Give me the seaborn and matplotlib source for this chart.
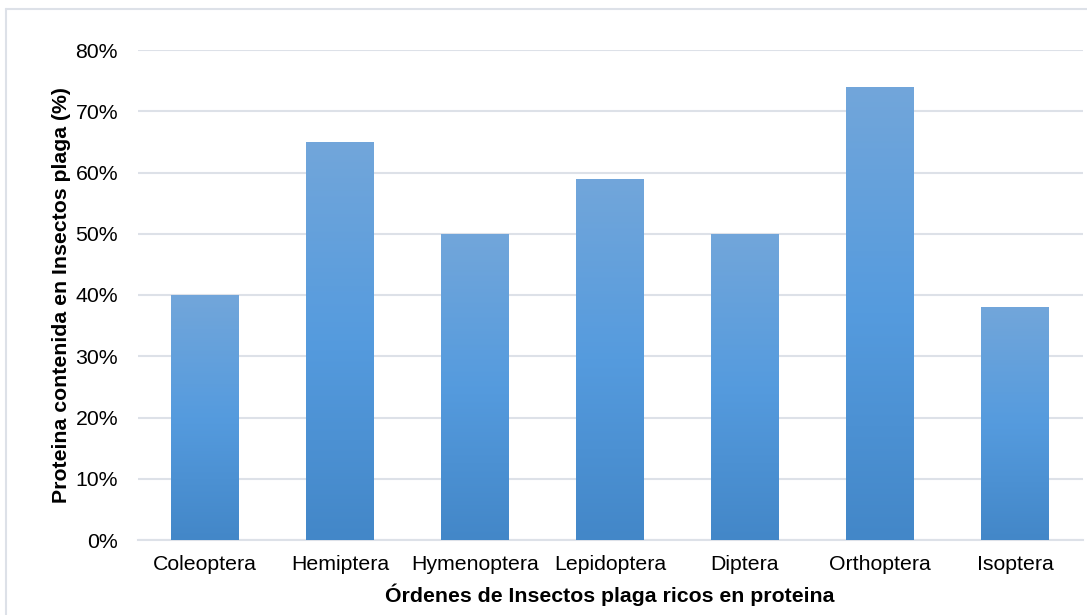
import numpy as np
import pandas as pd
import matplotlib
matplotlib.use("Agg")
import matplotlib.pyplot as plt
import seaborn as sns
from matplotlib.colors import LinearSegmentedColormap
from matplotlib.lines import Line2D

ordenes = ["Coleoptera", "Hemiptera", "Hymenoptera", "Lepidoptera", "Diptera", "Orthoptera", "Isoptera"]
proteina = [40, 65, 50, 59, 50, 74, 38]
y_ticks = [0, 10, 20, 30, 40, 50, 60, 70, 80]

sns.set_theme(style="white")
plt.rcParams['font.family'] = ['Liberation Sans', 'DejaVu Sans']

df = pd.DataFrame({"orden": ordenes, "proteina": proteina})

fig = plt.figure(figsize=(10.87, 6.15), dpi=100)
ax = fig.add_axes([137.5/1087, 1-540/615, 945/1087, 490/615])

sns.barplot(data=df, x="orden", y="proteina", color="#5B9BD5", width=0.5, ax=ax, zorder=2)

fs = 15.3
ax.set_ylim(0, 80)
ax.set_xlim(-0.5, len(ordenes) - 0.5)
ax.set_yticks(y_ticks)
ax.set_yticklabels([f"{v}%" for v in y_ticks])
grid_c = "#dde1e8"
ax.yaxis.grid(True, color=grid_c, linewidth=1.5, zorder=0)
ax.set_axisbelow(True)
for s in ["top", "right", "left"]:
    ax.spines[s].set_visible(False)
ax.spines["bottom"].set_color(grid_c)
ax.spines["bottom"].set_linewidth(1.5)
ax.tick_params(axis="both", length=0, labelsize=fs, colors="#000000")
ax.tick_params(axis="y", pad=14)
ax.tick_params(axis="x", pad=11)

ax.set_xlabel("Órdenes de Insectos plaga ricos en proteina", fontsize=fs, fontweight="bold",
              labelpad=7, color="#000000")
ax.set_ylabel("Proteina contenida en Insectos plaga (%)", fontsize=fs, fontweight="bold",
              labelpad=3.5, color="#000000")

# gradient fill
cmap = LinearSegmentedColormap.from_list("g", ["#4387C8", "#559BDE", "#72A6DA"])
grad = np.linspace(0, 1, 256).reshape(-1, 1)
for p in list(ax.patches):
    x0, y0 = p.get_x(), p.get_y()
    w, h = p.get_width(), p.get_height()
    im = ax.imshow(grad, extent=[x0, x0 + w, y0, y0 + h], origin="lower",
                   cmap=cmap, aspect="auto", zorder=3)
    im.set_clip_path(p)
    p.set_edgecolor("none")
ax.set_xlim(-0.5, len(ordenes) - 0.5)
ax.set_ylim(0, 80)

# figure border
bx = 6/1087
by = 1 - 9/615
fig.add_artist(Line2D([bx, 1], [by, by], color=grid_c, linewidth=1.5, transform=fig.transFigure))
fig.add_artist(Line2D([bx, bx], [0, by], color=grid_c, linewidth=1.5, transform=fig.transFigure))

fig.savefig("out.png", dpi=100)
